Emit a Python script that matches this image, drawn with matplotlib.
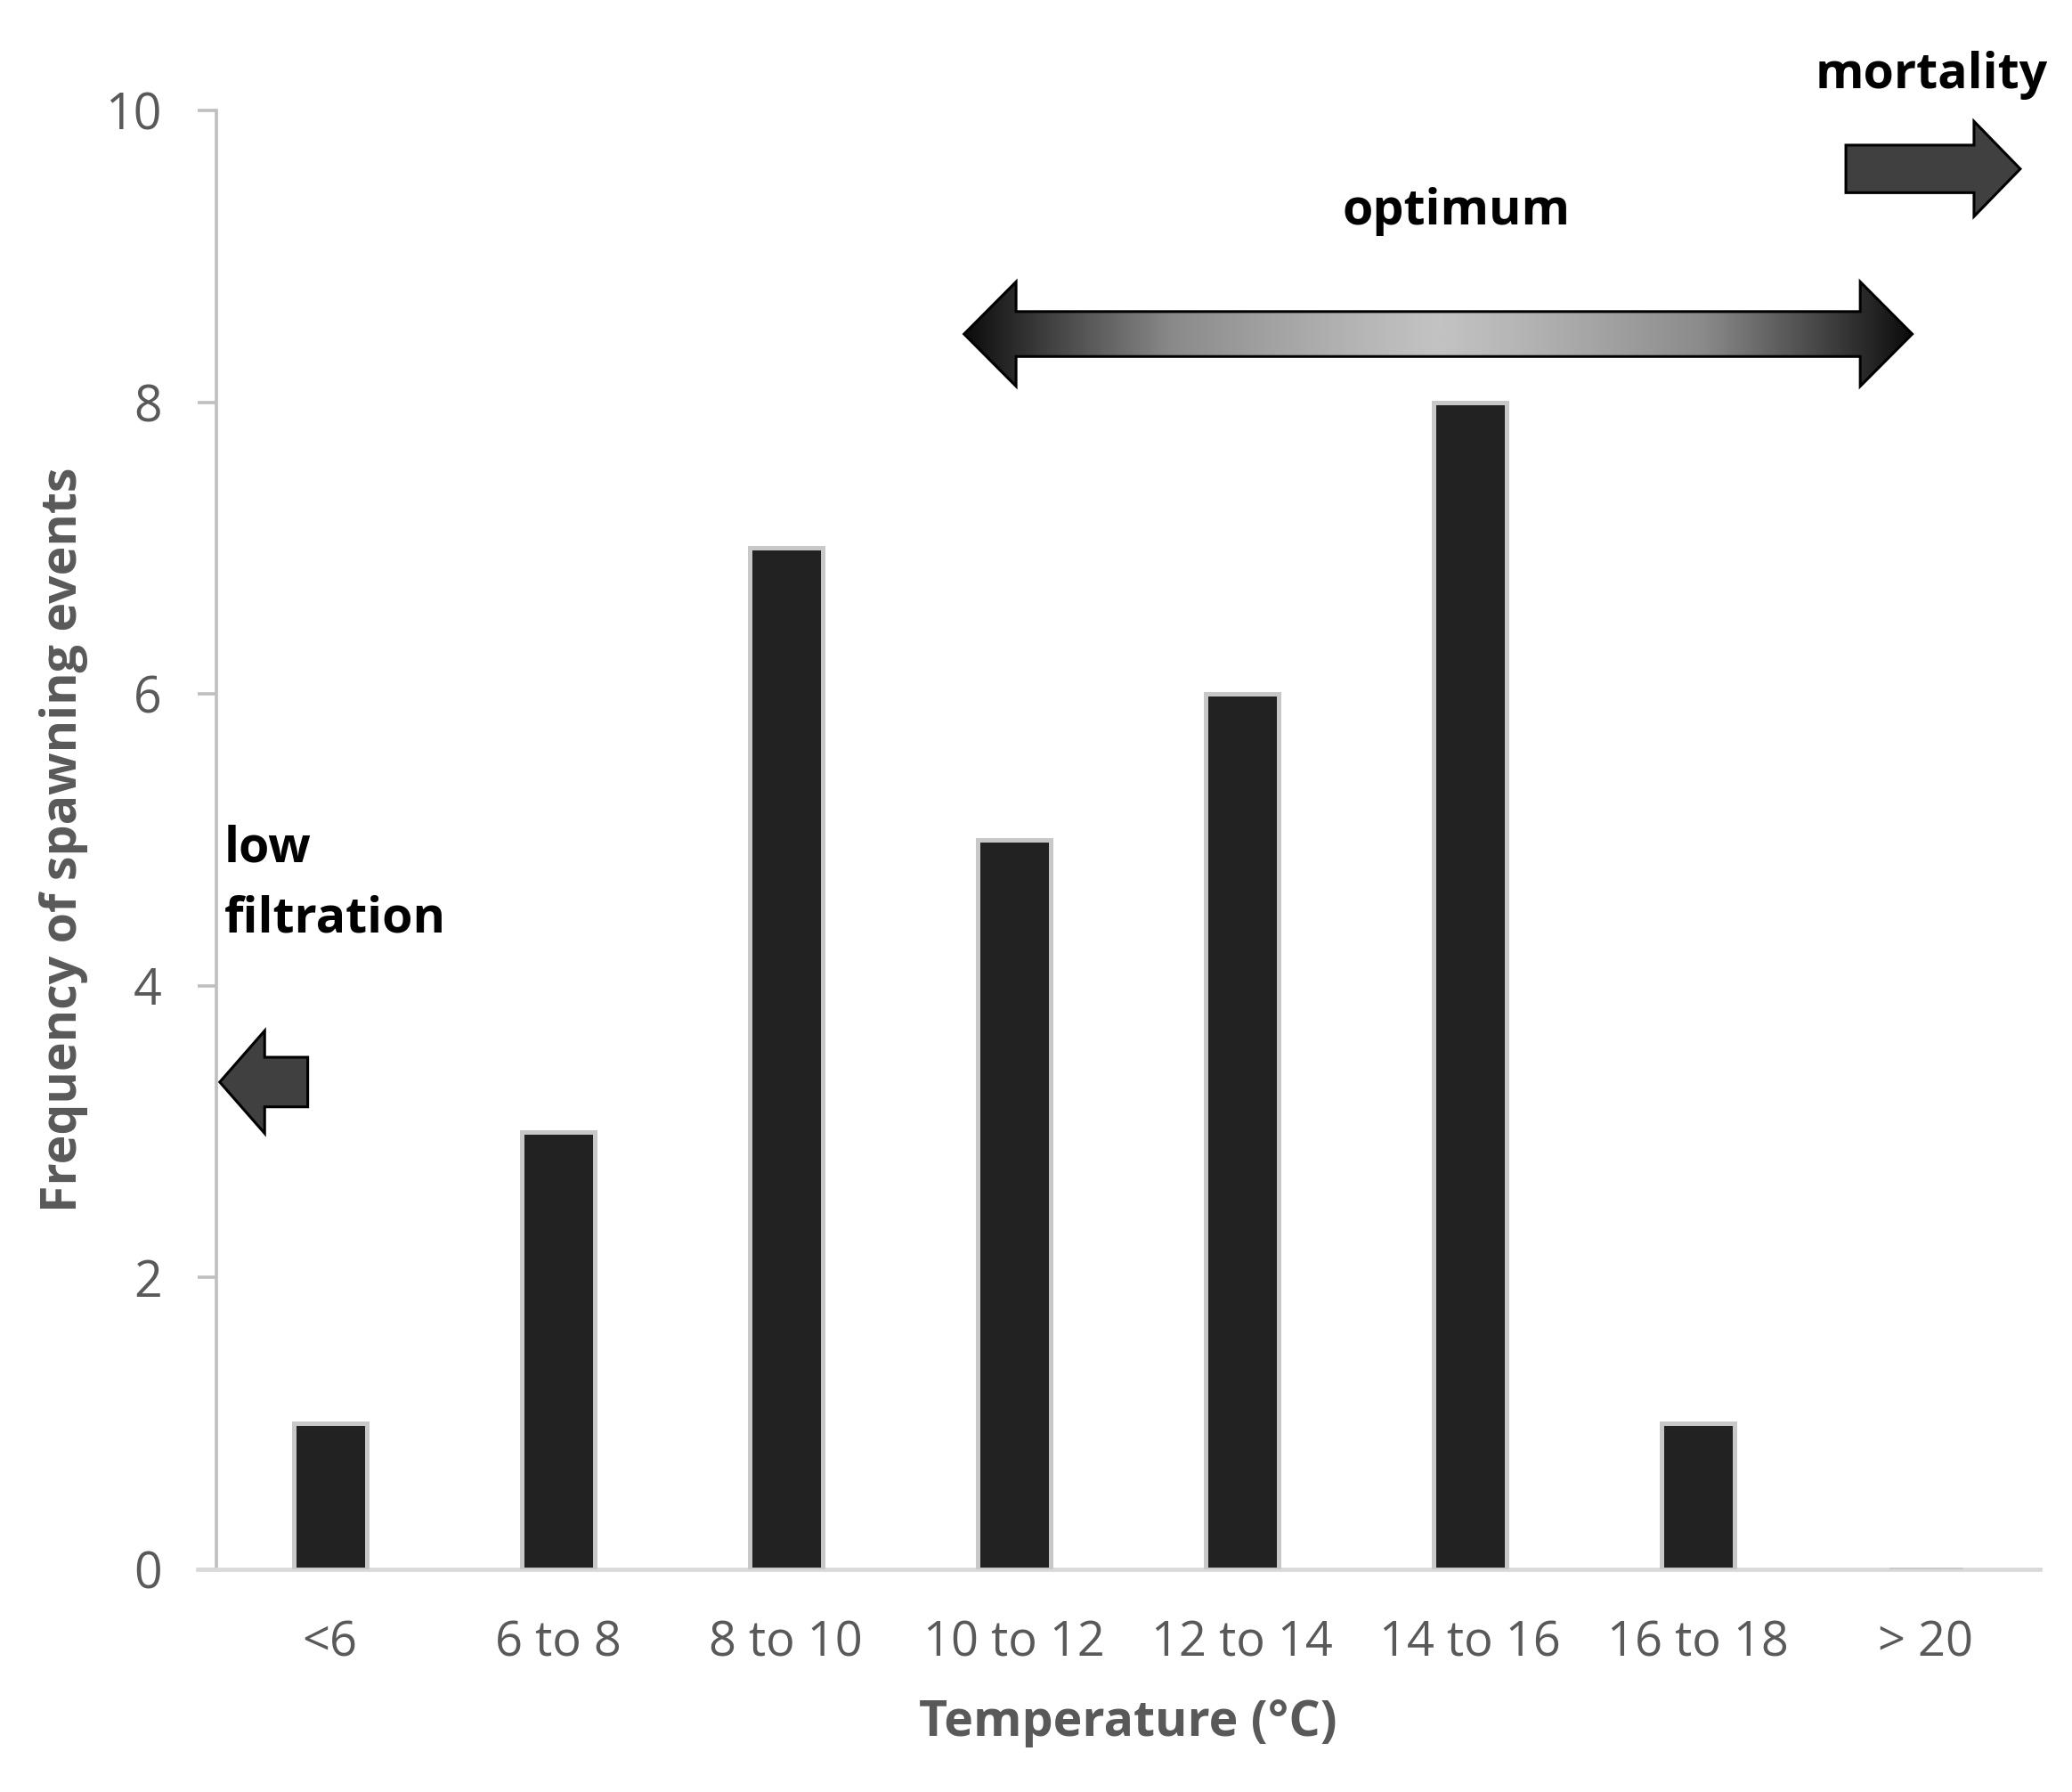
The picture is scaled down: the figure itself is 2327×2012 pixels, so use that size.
import numpy as np
import matplotlib.pyplot as plt
from matplotlib.patches import Polygon
from matplotlib.colors import LinearSegmentedColormap

plt.rcParams['font.family'] = ['Open Sans', 'DejaVu Sans']

# Data
categories = ['<6', '6 to 8', '8 to 10', '10 to 12', '12 to 14', '14 to 16', '16 to 18', '> 20']
spawning_events = [1, 3, 7, 5, 6, 8, 1, 0]
y_ticks = [0, 2, 4, 6, 8, 10]

label_grey = '#595959'
axis_grey = '#bfbfbf'


def block_arrow(x0, x1, yc, shaft_half, head_half, head_len, left=True, right=True):
    """Vertices of a block arrow between x0 and x1 (data units)."""
    verts = []
    if left:
        verts += [(x0, yc), (x0 + head_len, yc + head_half), (x0 + head_len, yc + shaft_half)]
    else:
        verts += [(x0, yc + shaft_half)]
    if right:
        verts += [(x1 - head_len, yc + shaft_half), (x1 - head_len, yc + head_half), (x1, yc),
                  (x1 - head_len, yc - head_half), (x1 - head_len, yc - shaft_half)]
    else:
        verts += [(x1, yc + shaft_half), (x1, yc - shaft_half)]
    if left:
        verts += [(x0 + head_len, yc - shaft_half), (x0 + head_len, yc - head_half)]
    else:
        verts += [(x0, yc - shaft_half)]
    return verts


fig = plt.figure(figsize=(23.27, 20.12), dpi=100)
ax = fig.add_axes([0.1043, 0.1243, 0.8802, 0.8140])

x = np.arange(len(categories))
ax.bar(x, spawning_events, width=0.32, color='#222222', edgecolor='#c8c8c8',
       linewidth=3.6, zorder=3)

ax.set_xlim(-0.5, len(categories) - 0.5)
ax.set_ylim(0, 10)
ax.set_yticks(y_ticks)
ax.set_xticks(x)
ax.set_xticklabels(categories)

for side in ['top', 'right']:
    ax.spines[side].set_visible(False)
ax.spines['left'].set_color(axis_grey)
ax.spines['left'].set_linewidth(2.6)
ax.spines['bottom'].set_color('#d9d9d9')
ax.spines['bottom'].set_linewidth(3.4)
ax.spines['bottom'].set_bounds(-0.582, len(categories) - 0.5)

ax.tick_params(axis='y', direction='out', length=15, width=2.6, color=axis_grey,
               pad=29, labelsize=40, labelcolor=label_grey)
ax.tick_params(axis='x', length=0, pad=40, labelsize=39, labelcolor=label_grey)

ax.set_ylabel('Frequency of spawning events', fontsize=40, fontweight='bold', color=label_grey)
ax.yaxis.label.set_va('center')
ax.yaxis.set_label_coords(-0.0838, 0.5)
ax.set_xlabel('Temperature (°C)', fontsize=40, fontweight='bold', color=label_grey)
ax.xaxis.label.set_va('center')
ax.xaxis.set_label_coords(0.5, -0.1056)

# optimum double arrow with grey gradient
opt_x0, opt_x1, opt_y = 2.781, 6.940, 8.468
opt_poly = Polygon(block_arrow(opt_x0, opt_x1, opt_y, 0.154, 0.358, 0.228),
                   closed=True, facecolor='none', edgecolor='black', linewidth=2.2, zorder=6)
ax.add_patch(opt_poly)
grad_cmap = LinearSegmentedColormap.from_list('grad', ['#c2c2c2', '#8a8a8a', '#0c0c0c'])
grad = np.abs(np.linspace(-1, 1, 512)) ** 1.2
img = ax.imshow(grad[np.newaxis, :], cmap=grad_cmap, aspect='auto', zorder=5,
                extent=[opt_x0, opt_x1, opt_y - 0.358, opt_y + 0.358], interpolation='bilinear')
img.set_clip_path(opt_poly)

# mortality arrow
ax.add_patch(Polygon(block_arrow(6.649, 7.414, 9.60, 0.163, 0.326, 0.203, left=False),
                     closed=True, facecolor='#404040', edgecolor='black', linewidth=2.2, zorder=6))
# low filtration arrow
ax.add_patch(Polygon(block_arrow(-0.484, -0.098, 3.34, 0.17, 0.352, 0.197, right=False),
                     closed=True, facecolor='#404040', edgecolor='black', linewidth=2.2, zorder=6))

ax.set_xlim(-0.5, len(categories) - 0.5)
ax.set_ylim(0, 10)

ax.text(7.026, 10.24, 'mortality', fontsize=40, fontweight='bold', ha='center', va='center')
ax.text(4.941, 9.31, 'optimum', fontsize=40, fontweight='bold', ha='center', va='center')
ax.text(-0.465, 4.848, 'low', fontsize=40, fontweight='bold', ha='left', va='baseline')
ax.text(-0.465, 4.368, 'filtration', fontsize=40, fontweight='bold', ha='left', va='baseline')

fig.savefig('out.png', dpi=100)
